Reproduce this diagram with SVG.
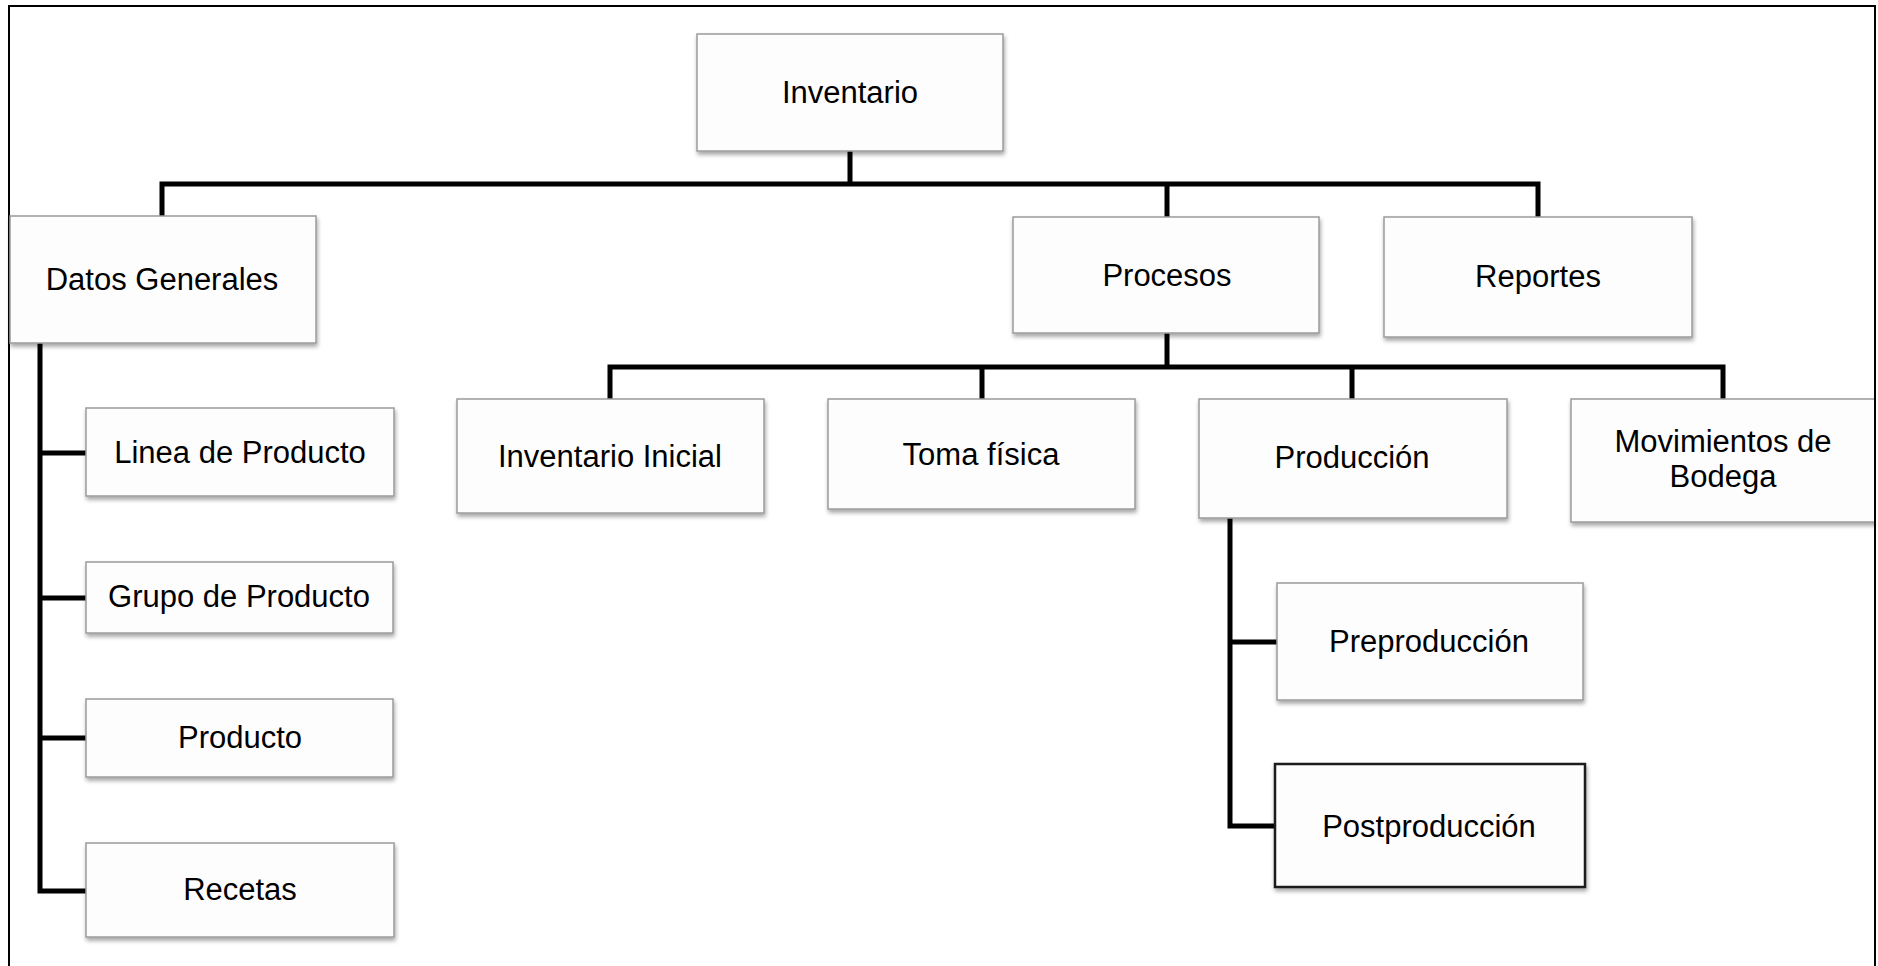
<svg xmlns="http://www.w3.org/2000/svg" width="1878" height="966" viewBox="0 0 1878 966">
  <style>
    .box { fill: #fdfdfd; stroke: #9a9a9a; stroke-width: 1.5; filter: url(#shadow); }
    .box.dark { stroke: #1a1a1a; stroke-width: 2.5; }
    .label { font-family: "Liberation Sans", Arial, sans-serif; font-size: 31px; fill: #000; text-anchor: middle; }
    .wire { fill: none; stroke: #000; stroke-width: 5; stroke-linejoin: miter; stroke-linecap: square; }
  </style>
  <defs>
    <filter id="shadow" x="-5%" y="-10%" width="115%" height="130%">
      <feDropShadow dx="1" dy="3" stdDeviation="2" flood-color="#000" flood-opacity="0.35"/>
    </filter>
    <clipPath id="frameClip">
      <rect x="9" y="6" width="1866" height="960"/>
    </clipPath>
  </defs>

  <rect width="1878" height="966" fill="#fff"/>

  <!-- outer frame -->
  <rect x="9" y="6" width="1866" height="962" fill="none" stroke="#000" stroke-width="2"/>

  <!-- connectors -->
  <g id="connectors">
    <path class="wire" d="M850 151 V184 M162 216 V184 H1538 V217 M1167 184 V217"/>
    <path class="wire" d="M1167 333 V367 M610 399 V367 H1723 V399 M982 367 V399 M1352 367 V399"/>
    <path class="wire" d="M40 343 V891 H86 M40 453 H86 M40 598 H86 M40 738 H86"/>
    <path class="wire" d="M1230 518 V826 H1275 M1230 642 H1277"/>
  </g>

  <g id="inventario">
    <rect class="box" x="697" y="34" width="306" height="117"/>
    <text class="label" x="850" y="103">Inventario</text>
  </g>

  <g id="datos-generales">
    <rect class="box" x="10" y="216" width="306" height="127"/>
    <text class="label" x="162" y="290">Datos Generales</text>
  </g>

  <g id="procesos">
    <rect class="box" x="1013" y="217" width="306" height="116"/>
    <text class="label" x="1167" y="286">Procesos</text>
  </g>

  <g id="reportes">
    <rect class="box" x="1384" y="217" width="308" height="120"/>
    <text class="label" x="1538" y="287">Reportes</text>
  </g>

  <g id="linea-producto">
    <rect class="box" x="86" y="408" width="308" height="88"/>
    <text class="label" x="240" y="463">Linea de Producto</text>
  </g>

  <g id="grupo-producto">
    <rect class="box" x="86" y="562" width="307" height="71"/>
    <text class="label" x="239" y="607">Grupo de Producto</text>
  </g>

  <g id="producto">
    <rect class="box" x="86" y="699" width="307" height="78"/>
    <text class="label" x="240" y="748">Producto</text>
  </g>

  <g id="recetas">
    <rect class="box" x="86" y="843" width="308" height="94"/>
    <text class="label" x="240" y="900">Recetas</text>
  </g>

  <g id="inventario-inicial">
    <rect class="box" x="457" y="399" width="307" height="114"/>
    <text class="label" x="610" y="467">Inventario Inicial</text>
  </g>

  <g id="toma-fisica">
    <rect class="box" x="828" y="399" width="307" height="110"/>
    <text class="label" x="981" y="465">Toma física</text>
  </g>

  <g id="produccion">
    <rect class="box" x="1199" y="399" width="308" height="119"/>
    <text class="label" x="1352" y="468">Producción</text>
  </g>

  <g id="movimientos-bodega" clip-path="url(#frameClip)">
    <rect class="box" x="1571" y="399" width="320" height="123"/>
    <text class="label" x="1723" y="452">Movimientos de</text>
    <text class="label" x="1723" y="487">Bodega</text>
  </g>

  <g id="preproduccion">
    <rect class="box" x="1277" y="583" width="306" height="117"/>
    <text class="label" x="1429" y="652">Preproducción</text>
  </g>

  <g id="postproduccion">
    <rect class="box dark" x="1275" y="764" width="310" height="123"/>
    <text class="label" x="1429" y="837">Postproducción</text>
  </g>

  <!-- frame edge redrawn over the clipped box -->
  <line x1="1875" y1="6" x2="1875" y2="966" stroke="#000" stroke-width="2"/>
</svg>
